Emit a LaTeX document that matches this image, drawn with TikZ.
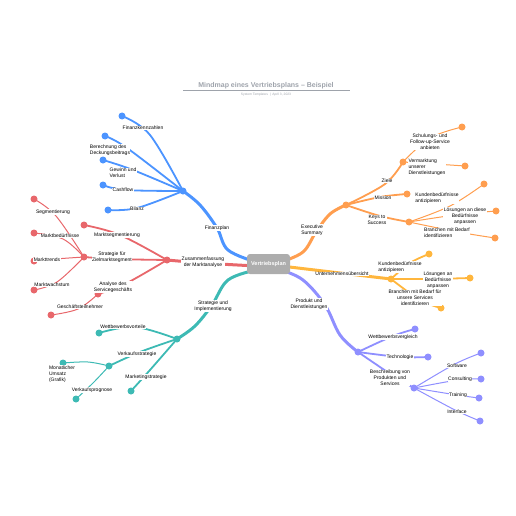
\documentclass[tikz,border=0pt]{standalone}
\usepackage{fontspec}
\setmainfont{Liberation Sans}
\definecolor{cblue}{HTML}{4C94FF}
\definecolor{cred}{HTML}{E8676B}
\definecolor{cteal}{HTML}{3DBAB4}
\definecolor{corange}{HTML}{FF9E4F}
\definecolor{cyellow}{HTML}{FFB63D}
\definecolor{cpurple}{HTML}{8F8FFF}
\definecolor{cgray}{HTML}{ADADAD}
\definecolor{ctitle}{HTML}{9EA3AB}
% branch from #2 through waypoint #3 to #4
\newcommand\mmBr[4]{\draw[#1] plot[smooth,tension=0.6] coordinates {(#2) #3 (#4)};}
\begin{document}
\begin{tikzpicture}[x=1pt,y=-1pt,
 dot/.style={circle,fill=#1,inner sep=0pt,minimum size=7pt},
 lab/.style={font=\fontsize{5}{5.8}\selectfont,fill=white,inner sep=0.4pt,align=center},
 labl/.style={lab,align=left},
 b1/.style={draw=#1,line width=3pt,line cap=round},
 b2/.style={draw=#1,line width=1.8pt,line cap=round},
 b3/.style={draw=#1,line width=1pt,line cap=round}]
\useasboundingbox (0,0) rectangle (516,516);
% title
\node[font=\bfseries\fontsize{7}{8}\selectfont,text=ctitle] (title) at (266,85.5) {Mindmap eines Vertriebsplans – Beispiel};
\coordinate (rl) at (183,90.5);
\coordinate (rr) at (350,90.5);
\draw[ctitle,line width=0.6pt] (rl) -- (rr);
\node[font=\fontsize{3.3}{4}\selectfont,text=ctitle] (subt) at (266,95) {System Templates \ | \ April 3, 2023};
% start points at the centre box
\coordinate (sb) at (256,262);
\coordinate (sr) at (256,266);
\coordinate (st) at (256,270);
\coordinate (so) at (281,262);
\coordinate (sy) at (281,266);
\coordinate (sp) at (281,270);
% hub and leaf positions
\coordinate (bh) at (183,191);
\coordinate (b1) at (122,116);
\coordinate (b2) at (105,136);
\coordinate (b3) at (103,160);
\coordinate (b4) at (103,185);
\coordinate (b5) at (108,210);
\coordinate (rh) at (167,260);
\coordinate (r1) at (84,225);
\coordinate (r2) at (84,257);
\coordinate (r3) at (98,294);
\coordinate (r31) at (51,315);
\coordinate (r21) at (34,199);
\coordinate (r22) at (34,233);
\coordinate (r23) at (34,261);
\coordinate (r24) at (34,290);
\coordinate (th) at (177,339);
\coordinate (t1) at (99,333);
\coordinate (t2) at (109,366);
\coordinate (t3) at (131,391);
\coordinate (t21) at (63,363);
\coordinate (t22) at (76,399);
\coordinate (oh) at (346,205);
\coordinate (o1) at (403,162);
\coordinate (o11) at (462,127);
\coordinate (o12) at (465,166);
\coordinate (o2) at (407,194);
\coordinate (o3) at (409,222);
\coordinate (o31) at (484,184);
\coordinate (o32) at (496,211);
\coordinate (o33) at (495,238);
\coordinate (yh) at (391,279);
\coordinate (y1) at (429,254);
\coordinate (y2) at (470,278);
\coordinate (y3) at (441,308);
\coordinate (ph) at (358,352);
\coordinate (p1) at (415,329);
\coordinate (p2) at (428,357);
\coordinate (p3) at (414,388);
\coordinate (p31) at (481,353);
\coordinate (p32) at (481,379);
\coordinate (p33) at (479,398);
\coordinate (p34) at (480,421);
% main branches
\mmBr{b1=cblue}{sb}{(228,250) (217,228) (200,205)}{bh}
\mmBr{b1=cred}{sr}{(203,263)}{rh}
\mmBr{b1=cteal}{st}{(228,280) (212,305) (195,326)}{th}
\mmBr{b1=corange}{so}{(303,252) (316,232) (330,214)}{oh}
\mmBr{b1=cyellow}{sy}{(340,273)}{yh}
\mmBr{b1=cpurple}{sp}{(303,280) (325,305) (340,335)}{ph}
% blue
\mmBr{b2=cblue}{bh}{(150,135)}{b1}
\mmBr{b2=cblue}{bh}{(127,148)}{b2}
\mmBr{b2=cblue}{bh}{(133,170)}{b3}
\mmBr{b2=cblue}{bh}{(125,190)}{b4}
\mmBr{b2=cblue}{bh}{(137,208)}{b5}
% red
\mmBr{b2=cred}{rh}{(120,235)}{r1}
\mmBr{b2=cred}{rh}{(115,259)}{r2}
\mmBr{b2=cred}{rh}{(125,284)}{r3}
\mmBr{b3=cred}{r3}{(78,309)}{r31}
\mmBr{b3=cred}{r2}{(56,216)}{r21}
\mmBr{b3=cred}{r2}{(63,239)}{r22}
\mmBr{b3=cred}{r2}{(55,259)}{r23}
\mmBr{b3=cred}{r2}{(57,282)}{r24}
% teal
\mmBr{b2=cteal}{th}{(135,327)}{t1}
\mmBr{b2=cteal}{th}{(140,352)}{t2}
\mmBr{b2=cteal}{th}{(150,370)}{t3}
\mmBr{b3=cteal}{t2}{(88,362)}{t21}
\mmBr{b3=cteal}{t2}{(93,383)}{t22}
% orange
\mmBr{b2=corange}{oh}{(385,184)}{o1}
\mmBr{b2=corange}{oh}{(380,197)}{o2}
\mmBr{b2=corange}{oh}{(380,216)}{o3}
\mmBr{b3=corange}{o1}{(430,138)}{o11}
\mmBr{b3=corange}{o1}{(435,164)}{o12}
\mmBr{b3=corange}{o3}{(450,206)}{o31}
\mmBr{b3=corange}{o3}{(455,215)}{o32}
\mmBr{b3=corange}{o3}{(458,232)}{o33}
% yellow
\mmBr{b2=cyellow}{yh}{(410,263)}{y1}
\mmBr{b2=cyellow}{yh}{(430,279)}{y2}
\mmBr{b2=cyellow}{yh}{(420,300)}{y3}
% purple
\mmBr{b2=cpurple}{ph}{(393,336)}{p1}
\mmBr{b2=cpurple}{ph}{(400,357)}{p2}
\mmBr{b2=cpurple}{ph}{(392,375)}{p3}
\mmBr{b3=cpurple}{p3}{(455,364)}{p31}
\mmBr{b3=cpurple}{p3}{(458,380)}{p32}
\mmBr{b3=cpurple}{p3}{(457,395)}{p33}
\mmBr{b3=cpurple}{p3}{(455,410)}{p34}
% dots
\foreach \k in {bh,b1,b2,b3,b4,b5} \node[dot=cblue] (d\k) at (\k) {};
\foreach \k in {rh,r1,r2,r3,r31,r21,r22,r23,r24} \node[dot=cred] (d\k) at (\k) {};
\foreach \k in {th,t1,t2,t3,t21,t22} \node[dot=cteal] (d\k) at (\k) {};
\foreach \k in {oh,o1,o11,o12,o2,o3,o31,o32,o33} \node[dot=corange] (d\k) at (\k) {};
\foreach \k in {yh,y1,y2,y3} \node[dot=cyellow] (d\k) at (\k) {};
\foreach \k in {ph,p1,p2,p3,p31,p32,p33,p34} \node[dot=cpurple] (d\k) at (\k) {};
% center
\node[fill=cgray,rounded corners=3pt,minimum width=43pt,minimum height=20pt,text=white,font=\bfseries\fontsize{5.5}{6}\selectfont] (c) at (268.5,264) {Vertriebsplan};
% labels main
\node[lab] (lb) at (217,228) {Finanzplan};
\node[lab] (lr) at (203,262) {Zusammenfassung\\der Marktanalyse};
\node[lab] (ltl) at (213,306) {Strategie und\\Implementierung};
\node[lab] (lo) at (312,230) {Executive\\Summary};
\node[lab] (ly) at (342,274) {Unternehmensübersicht};
\node[lab] (lp) at (309,304) {Produkt und\\Dienstleistungen};
% blue labels
\node[lab] (lb1) at (143,128) {Finanzkennzahlen};
\node[labl] (lb2) at (110,150) {Berechnung des\\Deckungsbeitrags};
\node[labl] (lb3) at (123,173) {Gewinn und\\Verlust};
\node[lab] (lb4) at (123,190) {Cashflow};
\node[lab] (lb5) at (137,209) {Bilanz};
% red labels
\node[lab] (lr1) at (117,235) {Marktsegmentierung};
\node[lab] (lr2) at (112,257) {Strategie für\\Zielmarktsegment};
\node[lab] (lr3) at (113,287) {Analyse des\\Servicegeschäfts};
\node[lab] (lr31) at (80,307) {Geschäftsteilnehmer};
\node[lab] (lr21) at (53,212) {Segmentierung};
\node[lab] (lr22) at (60,236) {Marktbedürfnisse};
\node[lab] (lr23) at (47,260) {Markttrends};
\node[lab] (lr24) at (52,285) {Marktwachstum};
% teal labels
\node[lab] (lt1) at (123,327) {Wettbewerbsvorteile};
\node[lab] (lt2) at (137,354) {Verkaufsstrategie};
\node[lab] (lt3) at (146,377) {Marketingstrategie};
\node[labl] (lt21) at (62,374) {Monatlicher\\Umsatz\\(Grafik)};
\node[lab] (lt22) at (92,390) {Verkaufsprognose};
% orange labels
\node[lab] (lo1) at (387,181) {Ziele};
\node[lab] (lo11) at (430,142) {Schulungs- und\\Follow-up-Service\\anbieten};
\node[labl] (lo12) at (427,167) {Vermarktung\\unserer\\Dienstleistungen};
\node[lab] (lo2) at (383,198) {Mission};
\node[lab] (lo3) at (377,220) {Keys to\\Success};
\node[labl] (lo31) at (437,198) {Kundenbedürfnisse\\antizipieren};
\node[lab] (lo32) at (465,216) {Lösungen an diese\\Bedürfnisse\\anpassen};
\node[labl] (lo33) at (447,233) {Branchen mit Bedarf\\identifizieren};
% yellow labels
\node[labl] (ly1) at (400,267) {Kundenbedürfnisse\\antizipieren};
\node[lab] (ly2) at (438,280) {Lösungen an\\Bedürfnisse\\anpassen};
\node[lab] (ly3) at (415,298) {Branchen mit Bedarf für\\unsere Services\\identifizieren};
% purple labels
\node[lab] (lp1) at (393,337) {Wettbewerbsvergleich};
\node[lab] (lp2) at (400,357) {Technologie};
\node[lab] (lp3) at (390,378) {Beschreibung von\\Produkten und\\Services};
\node[lab] (lp31) at (457,366) {Software};
\node[lab] (lp32) at (460,379) {Consulting};
\node[lab] (lp33) at (458,395) {Training};
\node[lab] (lp34) at (457,412) {Interface};
\end{tikzpicture}
\end{document}
